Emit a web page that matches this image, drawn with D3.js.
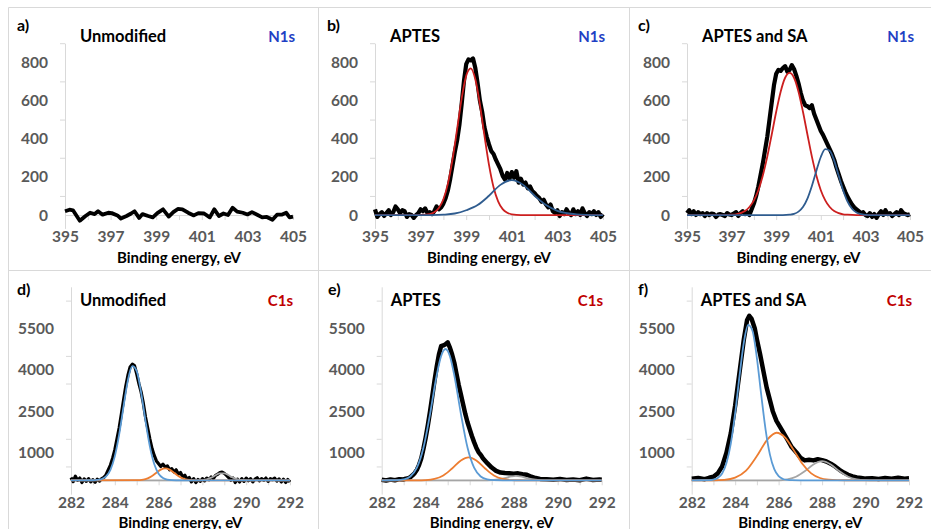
<!DOCTYPE html>
<html>
<head>
<meta charset="utf-8">
<script src="https://cdn.jsdelivr.net/npm/d3@7"></script>
<style>
  body { margin: 0; background: #fff; }
  svg { display: block; }
  text { font-family: Lato, "Open Sans", sans-serif; font-weight: 700; }
</style>
</head>
<body>
<svg width="931" height="529"></svg>
<script>

// ---- axis labels ----
const n1sXLabels = [395, 397, 399, 401, 403, 405];
const n1sYLabels = [0, 200, 400, 600, 800];
const c1sXLabels = [282, 284, 286, 288, 290, 292];
const c1sYLabels = [1000, 2500, 4000, 5500];

// ---- a) Unmodified N1s  [eV, counts] ----
const aRaw = [[395.0,20],[395.2,28],[395.35,25],[395.65,-30],[395.9,-5],[396.1,12],[396.3,5],[396.45,20],[396.65,2],
  [396.9,12],[397.05,10],[397.3,-2],[397.45,-18],[397.7,-5],[397.9,8],[398.05,20],[398.25,-15],[398.4,5],[398.65,-5],
  [398.85,-12],[399.05,10],[399.3,30],[399.55,-8],[399.75,15],[399.95,32],[400.15,30],[400.4,12],[400.65,-2],[400.85,10],
  [401.1,8],[401.35,-12],[401.55,30],[401.75,-5],[401.95,8],[402.15,0],[402.35,38],[402.55,18],[402.8,12],[403.0,3],
  [403.2,15],[403.45,0],[403.65,-12],[403.85,-10],[404.1,-25],[404.3,2],[404.5,2],[404.7,12],[404.85,-12],[405.0,-8]];

// ---- b) APTES N1s ----
const bRaw = [[395.0,30],[395.1,-10],[395.2,5],[395.3,15],[395.4,-5],[395.5,10],[395.6,25],[395.7,0],[395.8,15],[395.9,45],
  [396.0,30],[396.1,10],[396.2,25],[396.3,20],[396.4,-10],[396.5,5],[396.6,0],[396.7,-15],[396.8,0],[396.9,10],
  [397.0,30],[397.1,20],[397.2,35],[397.3,10],[397.4,15],[397.5,5],[397.6,20],[397.7,45],[397.8,30],[397.9,40],
  [398.0,60],[398.1,90],[398.2,130],[398.3,190],[398.4,260],[398.5,330],[398.6,390],[398.7,470],[398.8,580],[398.9,700],
  [399.0,790],[399.1,815],[399.2,810],[399.3,820],[399.4,770],[399.5,690],[399.6,600],[399.7,540],[399.8,460],[399.9,410],
  [400.0,370],[400.1,335],[400.2,320],[400.3,290],[400.4,265],[400.5,240],[400.6,205],[400.7,185],[400.8,220],[400.9,190],
  [401.0,225],[401.1,195],[401.2,230],[401.3,170],[401.4,190],[401.5,160],[401.6,170],[401.7,140],[401.8,150],[401.9,125],
  [402.0,115],[402.1,100],[402.2,90],[402.3,70],[402.4,80],[402.5,55],[402.6,40],[402.7,55],[402.8,20],[402.9,10],
  [403.0,25],[403.1,-5],[403.2,15],[403.3,5],[403.4,30],[403.5,10],[403.6,0],[403.7,30],[403.8,5],[403.9,20],
  [404.0,0],[404.1,35],[404.2,10],[404.3,-5],[404.4,15],[404.5,5],[404.6,20],[404.7,0],[404.8,15],[404.9,-10],[405.0,5]];
const bRed = [[395,0],[396.6,0],[397.0,1],[397.4,5],[397.6,14],[397.8,37],[398.0,83],[398.2,166],[398.4,291],[398.6,449],
  [398.8,610],[399.0,730],[399.2,768],[399.4,711],[399.6,580],[399.8,416],[400.0,263],[400.2,146],[400.4,72],[400.6,31],
  [400.8,12],[401.0,4],[401.4,0],[405,0]];
const bBlue = [[395,0],[397.5,0],[398,2],[398.5,8],[399,25],[399.5,52],[400,101],[400.5,158],[401,183],[401.5,158],
  [402,101],[402.5,52],[403,22],[403.5,8],[404,2],[404.5,0],[405,0]];

// ---- c) APTES and SA N1s ----
const cRaw = [[395.0,10],[395.1,25],[395.2,5],[395.3,20],[395.4,0],[395.5,15],[395.6,5],[395.7,10],[395.8,-5],[395.9,10],
  [396.0,0],[396.1,8],[396.2,5],[396.3,-10],[396.4,2],[396.5,5],[396.6,0],[396.7,-5],[396.8,10],[396.9,3],
  [397.0,0],[397.1,8],[397.2,15],[397.3,-5],[397.4,10],[397.5,20],[397.6,5],[397.7,15],[397.8,0],[397.9,30],
  [398.0,60],[398.1,100],[398.2,150],[398.3,210],[398.4,270],[398.5,340],[398.6,410],[398.7,500],[398.8,590],[398.9,680],
  [399.0,740],[399.1,760],[399.2,755],[399.3,770],[399.4,780],[399.5,750],[399.6,760],[399.7,785],[399.8,765],[399.9,730],
  [400.0,690],[400.1,640],[400.2,600],[400.3,575],[400.4,570],[400.5,560],[400.6,575],[400.7,530],[400.8,500],[400.9,470],
  [401.0,440],[401.1,420],[401.2,395],[401.3,370],[401.4,345],[401.5,320],[401.6,290],[401.7,250],[401.8,215],[401.9,180],
  [402.0,150],[402.1,120],[402.2,95],[402.3,75],[402.4,55],[402.5,40],[402.6,30],[402.7,20],[402.8,10],[402.9,15],
  [403.0,0],[403.1,-5],[403.2,10],[403.3,-10],[403.4,5],[403.5,-15],[403.6,5],[403.7,20],[403.8,0],[403.9,25],
  [404.0,5],[404.1,10],[404.2,-5],[404.3,5],[404.4,15],[404.5,0],[404.6,25],[404.7,10],[404.8,5],[404.9,0],[405.0,5]];
const cRed = [[395,0],[396.6,0],[397.0,2],[397.2,4],[397.6,21],[397.8,42],[398.0,77],[398.2,130],[398.4,207],[398.6,306],
  [398.8,422],[399.0,541],[399.2,646],[399.4,719],[399.6,745],[399.8,719],[400.0,646],[400.2,541],[400.4,422],[400.6,306],
  [400.8,207],[401.0,130],[401.2,77],[401.4,42],[401.6,21],[401.8,10],[402.0,4],[402.2,2],[402.6,0],[405,0]];
const cBlue = [[395,0],[399.3,0],[399.6,2],[399.8,6],[400.0,18],[400.2,42],[400.4,86],[400.6,152],[400.8,231],[401.0,304],
  [401.2,345],[401.4,337],[401.6,285],[401.8,207],[402.0,130],[402.2,70],[402.4,33],[402.6,13],[402.8,5],[403.0,1],
  [403.4,0],[405,0]];

// ---- d) Unmodified C1s ----
const dRaw = [[282.0,100],[282.1,-50],[282.2,150],[282.3,0],[282.4,80],[282.5,-80],[282.6,50],[282.7,-40],[282.8,60],[282.9,-60],
  [283.0,20],[283.1,-70],[283.2,40],[283.3,-30],[283.4,60],[283.5,100],[283.6,200],[283.7,380],[283.8,550],[283.9,800],
  [284.0,1100],[284.1,1500],[284.2,1900],[284.3,2400],[284.4,2900],[284.5,3400],[284.6,3800],[284.7,4100],[284.8,4200],[284.9,4150],
  [285.0,3850],[285.1,3500],[285.2,3200],[285.3,2800],[285.4,2300],[285.5,1900],[285.6,1500],[285.7,1150],[285.8,900],[285.9,700],
  [286.0,600],[286.1,500],[286.2,580],[286.3,480],[286.4,520],[286.5,380],[286.6,420],[286.7,300],[286.8,380],[286.9,220],
  [287.0,280],[287.1,120],[287.2,180],[287.3,40],[287.4,100],[287.5,-60],[287.6,60],[287.7,-80],[287.8,30],[287.9,-40],
  [288.0,60],[288.1,-20],[288.2,80],[288.3,20],[288.4,120],[288.5,60],[288.6,180],[288.7,220],[288.8,280],[288.9,300],
  [289.0,250],[289.1,180],[289.2,100],[289.3,0],[289.4,80],[289.5,-80],[289.6,40],[289.7,-60],[289.8,60],[289.9,-40],
  [290.0,80],[290.1,-20],[290.2,60],[290.3,-60],[290.4,40],[290.5,90],[290.6,-20],[290.7,60],[290.8,0],[290.9,80],
  [291.0,-40],[291.1,60],[291.2,20],[291.3,80],[291.4,-30],[291.5,50],[291.6,-60],[291.7,40],[291.8,-80],[291.9,30],[292.0,-60]];
const dBlue = [[282,0],[283.0,2],[283.2,11],[283.4,43],[283.6,140],[283.8,380],[284.0,866],[284.2,1660],[284.4,2675],[284.6,3623],
  [284.8,4128],[285.0,3952],[285.2,3182],[285.4,2153],[285.6,1225],[285.8,586],[286.0,236],[286.2,80],[286.4,23],[286.6,6],
  [287,0],[292,0]];
const dOrange = [[282,0],[285.0,5],[285.3,25],[285.5,70],[285.7,155],[285.9,273],[286.1,384],[286.3,430],[286.5,384],[286.7,273],
  [286.9,155],[287.1,70],[287.3,25],[287.5,7],[287.8,0],[292,0]];
const dGray = [[282,0],[287.8,0],[288.2,35],[288.4,94],[288.6,180],[288.8,250],[289.0,250],[289.2,180],[289.4,94],[289.6,35],
  [289.8,10],[290.1,0],[292,0]];

// ---- e) APTES C1s ----
const eRaw = [[282.0,20],[282.2,-10],[282.4,30],[282.6,0],[282.8,40],[283.0,30],[283.1,60],[283.2,70],[283.3,110],[283.4,180],
  [283.5,260],[283.6,380],[283.7,560],[283.8,800],[283.9,1150],[284.0,1550],[284.1,2000],[284.2,2500],[284.3,3050],[284.4,3600],
  [284.5,4100],[284.6,4550],[284.7,4850],[284.8,4880],[284.9,4920],[285.0,4990],[285.1,4800],[285.2,4550],[285.3,4250],[285.4,3850],
  [285.5,3450],[285.6,3100],[285.7,2750],[285.8,2400],[285.9,2100],[286.0,1850],[286.1,1600],[286.2,1380],[286.3,1180],[286.4,1020],
  [286.5,920],[286.6,800],[286.8,620],[287.0,460],[287.2,340],[287.4,280],[287.6,260],[287.8,250],[288.0,240],[288.2,250],
  [288.4,220],[288.6,200],[288.8,130],[289.0,80],[289.2,50],[289.5,40],[289.8,20],[290.1,50],[290.4,10],[290.7,30],
  [291.0,0],[291.3,60],[291.6,10],[291.9,30],[292.0,20]];
const eBlue = [[282,0],[282.7,3],[283.0,32],[283.3,136],[283.6,454],[283.9,1183],[284.2,2405],[284.5,3800],[284.7,4493],[284.9,4750],
  [285.1,4493],[285.3,3800],[285.6,2405],[285.9,1183],[286.2,454],[286.5,136],[286.8,32],[287.1,5],[287.5,0],[292,0]];
const eOrange = [[282,0],[283.6,0],[284.0,9],[284.4,48],[284.8,173],[285.2,426],[285.6,718],[285.95,830],[286.3,718],[286.7,426],
  [287.1,173],[287.5,48],[287.9,9],[288.3,1],[288.6,0],[292,0]];
const eGray = [[282,0],[286.8,0],[287.2,20],[287.6,80],[287.9,140],[288.1,160],[288.3,140],[288.6,80],[289.0,20],[289.4,0],[292,0]];

// ---- f) APTES and SA C1s ----
const fRaw = [[282.0,60],[282.3,80],[282.6,40],[282.8,90],[283.0,130],[283.2,250],[283.4,500],[283.6,1000],[283.8,1700],[284.0,2700],
  [284.2,3900],[284.4,5100],[284.55,5800],[284.65,5950],[284.75,5850],[284.9,5500],[285.0,5100],[285.15,4550],[285.3,3950],[285.45,3350],
  [285.6,2900],[285.73,2500],[285.9,2150],[286.05,1950],[286.22,1720],[286.4,1480],[286.6,1200],[286.83,1000],[287.0,820],[287.2,720],
  [287.4,740],[287.6,720],[287.8,760],[288.0,730],[288.2,680],[288.4,600],[288.6,500],[288.8,380],[289.0,280],[289.2,200],
  [289.4,140],[289.6,100],[289.8,80],[290.0,60],[290.3,70],[290.6,50],[290.9,80],[291.2,60],[291.5,90],[291.8,60],[292.0,70]];
const fBlue = [[282,0],[282.8,5],[283.0,24],[283.2,85],[283.4,248],[283.6,626],[283.8,1331],[284.0,2426],[284.2,3769],[284.4,4986],
  [284.6,5622],[284.8,5401],[285.0,4423],[285.2,3085],[285.4,1835],[285.6,929],[285.8,401],[286.0,148],[286.2,46],[286.4,12],
  [286.6,3],[287,0],[292,0]];
const fOrange = [[282,0],[283.0,2],[283.5,17],[284.0,94],[284.5,347],[285.0,875],[285.5,1489],[285.9,1720],[286.3,1546],[286.7,1082],
  [287.1,590],[287.5,251],[287.9,83],[288.3,21],[288.7,5],[289.1,1],[289.5,0],[292,0]];
const fGray = [[282,0],[286.0,0],[286.4,33],[286.8,126],[287.2,324],[287.6,571],[288.0,690],[288.4,571],[288.8,324],[289.2,126],
  [289.6,33],[290.0,6],[290.4,0],[292,0]];


const svg = d3.select("svg");

// panel frames
const frame = svg.append("g").attr("stroke", "#d9d9d9").attr("stroke-width", 1);
[[8, 7, 931, 7], [8, 270, 931, 270], [8, 7, 8, 529], [318, 7, 318, 529], [629, 7, 629, 529]].forEach(l => {
  frame.append("line").attr("x1", l[0] + 0.5).attr("y1", l[1] + 0.5).attr("x2", l[2] + 0.5).attr("y2", l[3] + 0.5);
});

const topRow = {
  xDomain: [395, 405], yDomain: [-70, 900], yRange: [228.4, 43.2],
  xLabels: n1sXLabels, yLabels: n1sYLabels, yMinor: [100, 300, 500, 700, 900],
  element: "N1s", elementColor: "#1f3fc4", titleY: 42, axisTitleY: 263, letterY: 31
};
const bottomRow = {
  xDomain: [282, 292], yDomain: [-500, 7000], yRange: [494.1, 286.8],
  xLabels: c1sXLabels, yLabels: c1sYLabels, yMinor: [500, 1500, 3500, 4500, 6500],
  element: "C1s", elementColor: "#c00000", titleY: 306, axisTitleY: 527.5, letterY: 295
};

const panels = [
  {row: topRow, letter: "a)", title: "Unmodified", x0: 65, x1: 293, letterX: 17, elemX: 295,
   series: [{data: aRaw, color: "#000", w: 3.8, raw: true}]},
  {row: topRow, letter: "b)", title: "APTES", x0: 375, x1: 603, letterX: 327, elemX: 605,
   series: [{data: bRaw, color: "#000", w: 4.2, raw: true}, {data: bRed, color: "#cc1f1f", w: 1.8}, {data: bBlue, color: "#2f5c8f", w: 1.8}]},
  {row: topRow, letter: "c)", title: "APTES and SA", x0: 687, x1: 910, letterX: 638, elemX: 914,
   series: [{data: cRaw, color: "#000", w: 4.2, raw: true}, {data: cRed, color: "#cc1f1f", w: 1.8}, {data: cBlue, color: "#2f5c8f", w: 1.8}]},
  {row: bottomRow, letter: "d)", title: "Unmodified", x0: 71, x1: 290, letterX: 17, elemX: 293,
   series: [{data: dRaw, color: "#000", w: 3.2, raw: true}, {data: dGray, color: "#a5a5a5", w: 1.8},
            {data: dOrange, color: "#ed7d31", w: 1.8}, {data: dBlue, color: "#5b9bd5", w: 1.8}]},
  {row: bottomRow, letter: "e)", title: "APTES", x0: 381.7, x1: 601.7, letterX: 328, elemX: 603,
   series: [{data: eRaw, color: "#000", w: 4.5, raw: true}, {data: eGray, color: "#a5a5a5", w: 1.8},
            {data: eOrange, color: "#ed7d31", w: 1.8}, {data: eBlue, color: "#5b9bd5", w: 1.8}]},
  {row: bottomRow, letter: "f)", title: "APTES and SA", x0: 691.7, x1: 909, letterX: 638, elemX: 912,
   series: [{data: fRaw, color: "#000", w: 4.5, raw: true}, {data: fGray, color: "#a5a5a5", w: 1.8},
            {data: fOrange, color: "#ed7d31", w: 1.8}, {data: fBlue, color: "#5b9bd5", w: 1.8}]}
];

panels.forEach(p => drawPanel(p));

function drawPanel(p) {
  const r = p.row;
  const x = d3.scaleLinear().domain(r.xDomain).range([p.x0, p.x1]);
  const y = d3.scaleLinear().domain(r.yDomain).range(r.yRange);
  const g = svg.append("g");

  // y axis: line + labels
  g.append("g")
   .attr("transform", "translate(" + p.x0 + ",0)")
   .call(d3.axisLeft(y).tickValues(r.yLabels).tickSize(0).tickPadding(17).tickSizeOuter(0).tickFormat(d3.format("d")))
   .call(a => a.select(".domain").attr("stroke", "#d9d9d9"))
   .call(a => a.selectAll("text").attr("fill", "#595959").style("font-size", "15.5px"));

  // y minor ticks
  g.append("g")
   .attr("transform", "translate(" + p.x0 + ",0)")
   .call(d3.axisLeft(y).tickValues(r.yMinor).tickSize(5).tickFormat("").tickSizeOuter(0))
   .call(a => a.select(".domain").remove())
   .call(a => a.selectAll("line").attr("stroke", "#d9d9d9"));

  // x axis line at zero with a tick every eV
  g.append("g")
   .attr("transform", "translate(0," + y(0) + ")")
   .call(d3.axisBottom(x).tickValues(d3.range(r.xDomain[0], r.xDomain[1] + 1)).tickSize(5).tickFormat("").tickSizeOuter(0))
   .call(a => a.select(".domain").attr("stroke", "#d9d9d9"))
   .call(a => a.selectAll("line").attr("stroke", "#d9d9d9"));

  // x labels, low
  g.append("g")
   .attr("transform", "translate(0," + y(r.yDomain[0]) + ")")
   .call(d3.axisBottom(x).tickValues(r.xLabels).tickSize(0).tickPadding(3).tickFormat(d3.format("d")))
   .call(a => a.select(".domain").remove())
   .call(a => a.selectAll("text").attr("fill", "#595959").style("font-size", "15.5px"));

  // curves
  const rawLine = d3.line().x(d => x(d[0])).y(d => y(d[1]));
  const fitLine = d3.line().x(d => x(d[0])).y(d => y(d[1])).curve(d3.curveMonotoneX);
  p.series.forEach(s => {
    g.append("path")
     .datum(s.data)
     .attr("fill", "none")
     .attr("stroke", s.color)
     .attr("stroke-width", s.w)
     .attr("stroke-linejoin", "round")
     .attr("d", s.raw ? rawLine : fitLine);
  });

  // texts
  g.append("text").attr("x", p.letterX).attr("y", r.letterY).style("font-size", "16px").text(p.letter);
  g.append("text").attr("x", p.x0 + (r === topRow ? 15 : 9)).attr("y", r.titleY).style("font-size", "16.5px").text(p.title);
  g.append("text").attr("x", p.elemX).attr("y", r.titleY).attr("text-anchor", "end")
   .attr("fill", r.elementColor).style("font-size", "15px").text(r.element);
  g.append("text").attr("x", (p.x0 + p.x1) / 2).attr("y", r.axisTitleY).attr("text-anchor", "middle")
   .style("font-size", "15px").text("Binding energy, eV");
}
</script>
</body>
</html>
